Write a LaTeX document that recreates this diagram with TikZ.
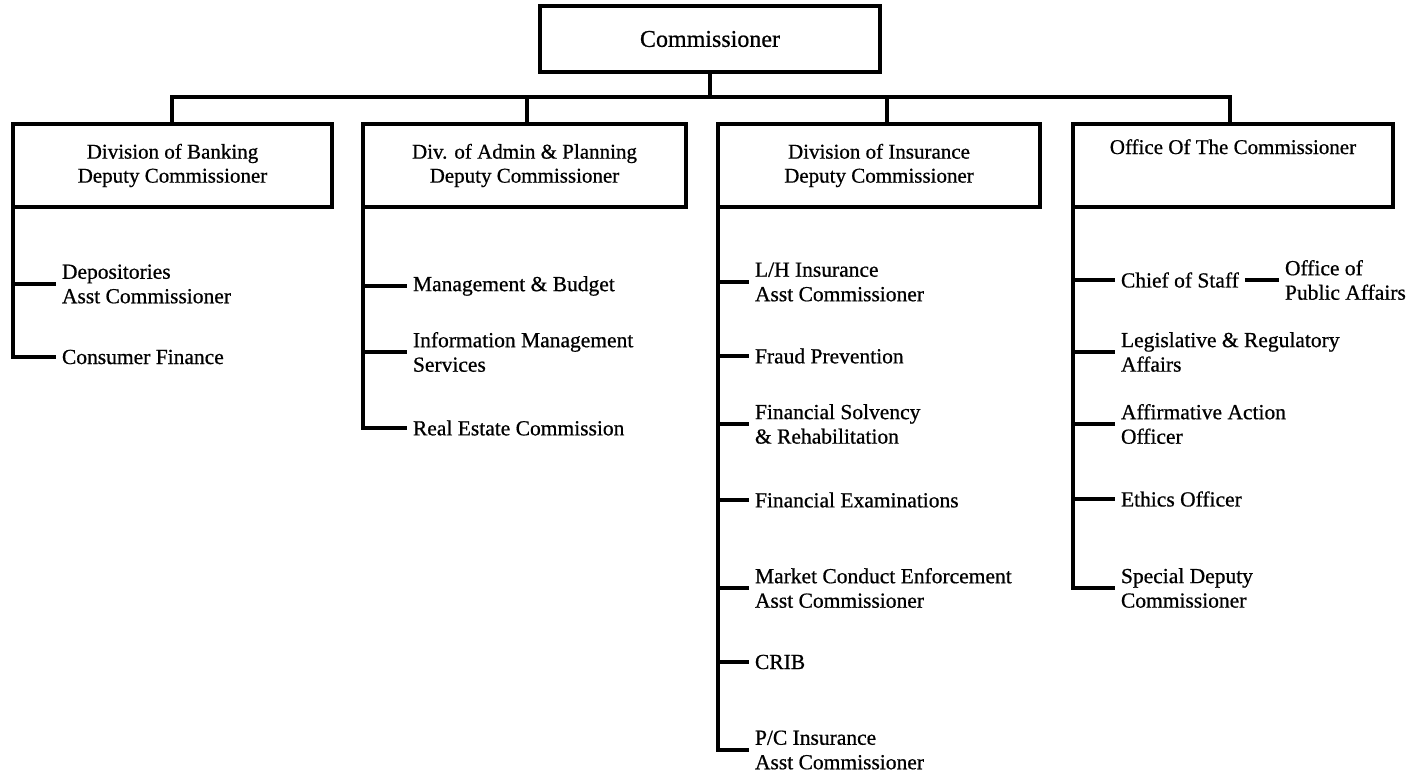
\documentclass[tikz,border=0pt]{standalone}
\usepackage{fontspec}
\setmainfont{Liberation Serif}
\newfontfamily\scanfont{Liberation Serif}[FakeBold=0.7]
\begin{document}
\begin{tikzpicture}[x=1pt,y=-1pt,
  line width=3.1pt, line join=miter,
  box/.style={draw, line width=3.1pt, rectangle, align=center, inner sep=0pt, outer sep=0pt,
              font=\scanfont\fontsize{21}{24}\selectfont},
  topbox/.style={box, font=\scanfont\fontsize{24}{27}\selectfont},
  item/.style={anchor=west, align=left, inner xsep=6pt, inner ysep=0pt, outer sep=0pt,
               font=\scanfont\fontsize{21.5}{24.5}\selectfont},
  conn/.style={line width=3.1pt}]
\useasboundingbox (0,0) rectangle (1414,773);

% top
\node[topbox, minimum width=340pt, minimum height=66pt] (comm) at (710,39) {Commissioner};

% divisions
\node[box, minimum width=319pt, minimum height=83pt] (d1) at (172.5,165.5) {Division of Banking\\Deputy Commissioner};
\node[box, minimum width=323pt, minimum height=83pt] (d2) at (524.5,165.5) {Div. of Admin \& Planning\\Deputy Commissioner};
\node[box, minimum width=322pt, minimum height=83pt] (d3) at (879,165.5) {Division of Insurance\\Deputy Commissioner};
\node[box, minimum width=320pt, minimum height=83pt, text height=15pt, text depth=38pt] (d4) at (1233,165.5) {Office Of The Commissioner};

% bus
\coordinate (bus) at (710,97);
\coordinate (b1) at (172,97);
\coordinate (b2) at (527,97);
\coordinate (b3) at (887,97);
\coordinate (b4) at (1230,97);
\draw[conn] (comm.south) -- (bus);
\draw[conn] (b1 |- d1.north) -- (b1) -- (b4) -- (b4 |- d4.north);
\draw[conn] (b2) -- (b2 |- d2.north);
\draw[conn] (b3) -- (b3 |- d3.north);

% Division of Banking
\node[item] (dep) at (56,284) {Depositories\\Asst Commissioner};
\node[item] (cf) at (56,357) {Consumer Finance};
\draw[conn] (d1.south west) |- (cf.west);
\draw[conn] (d1.south west |- dep.west) -- (dep.west);

% Admin & Planning
\node[item] (mb) at (407,286) {Management \& Budget};
\node[item] (ims) at (407,352) {Information Management\\Services};
\node[item] (rec) at (407,428) {Real Estate Commission};
\draw[conn] (d2.south west) |- (rec.west);
\draw[conn] (d2.south west |- mb.west) -- (mb.west);
\draw[conn] (d2.south west |- ims.west) -- (ims.west);

% Insurance
\node[item] (lh) at (749,282) {L/H Insurance\\Asst Commissioner};
\node[item] (fp) at (749,356) {Fraud Prevention};
\node[item] (fs) at (749,424) {Financial Solvency\\\& Rehabilitation};
\node[item] (fe) at (749,500) {Financial Examinations};
\node[item] (mc) at (749,588) {Market Conduct Enforcement\\Asst Commissioner};
\node[item] (crib) at (749,662) {CRIB};
\node[item] (pc) at (749,750) {P/C Insurance\\Asst Commissioner};
\draw[conn] (d3.south west) |- (pc.west);
\foreach \n in {lh,fp,fs,fe,mc,crib}
  \draw[conn] (d3.south west |- \n.west) -- (\n.west);

% Office of the Commissioner
\node[item] (cos) at (1115,280) {Chief of Staff};
\node[item] (opa) at (1279,280) {Office of\\Public Affairs};
\node[item] (lra) at (1115,352) {Legislative \& Regulatory\\Affairs};
\node[item] (aao) at (1115,424) {Affirmative Action\\Officer};
\node[item] (eo) at (1115,499) {Ethics Officer};
\node[item] (sdc) at (1115,588) {Special Deputy\\Commissioner};
\draw[conn] (d4.south west) |- (sdc.west);
\foreach \n in {cos,lra,aao,eo}
  \draw[conn] (d4.south west |- \n.west) -- (\n.west);
\draw[conn] (cos.east) -- (opa.west);
\end{tikzpicture}
\end{document}
